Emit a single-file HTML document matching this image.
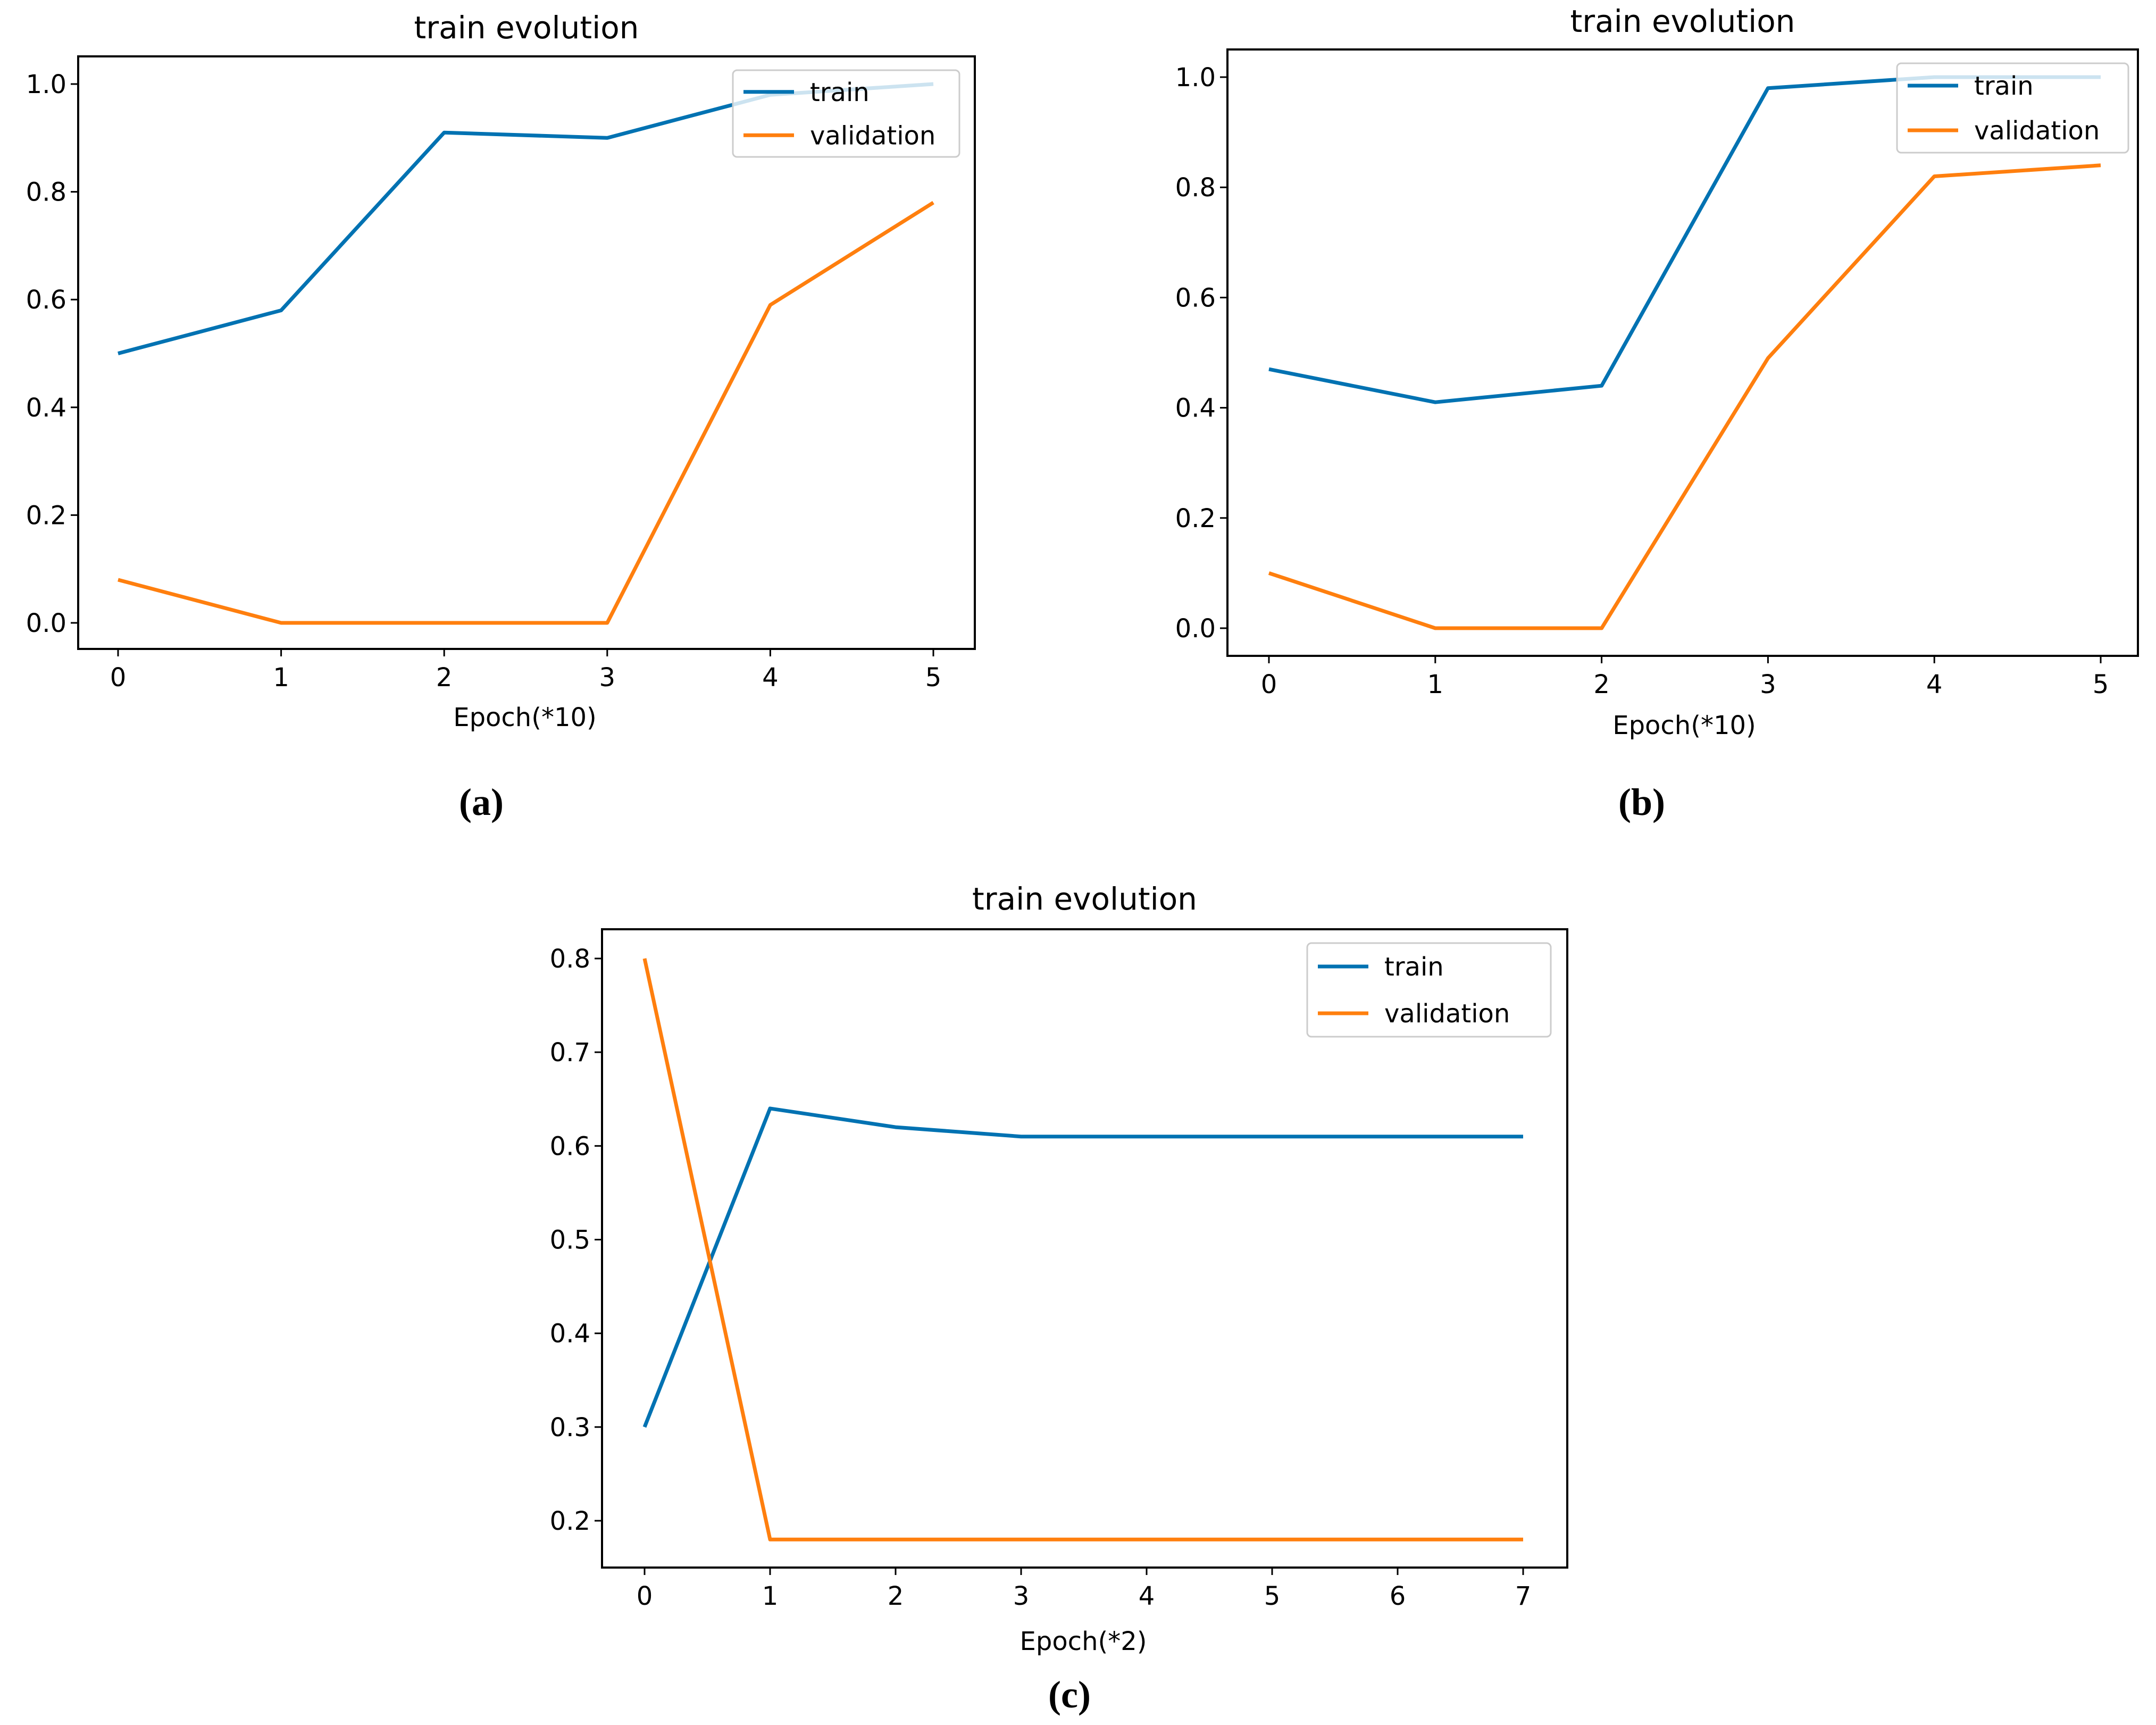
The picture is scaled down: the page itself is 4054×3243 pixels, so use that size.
<!DOCTYPE html>
<html><head><meta charset="utf-8">
<style>
html,body{margin:0;padding:0;background:#fff;}
svg{display:block;}
text{font-family:"DejaVu Sans","Liberation Sans",sans-serif;fill:#000;}
.cap{font-family:"Liberation Serif",serif;font-weight:bold;}
</style></head>
<body>
<svg id="fig" width="4054" height="3243" viewBox="0 0 4054 3243" xmlns="http://www.w3.org/2000/svg"></svg>
<script>
// Panel (a) data
const aCategories = [0,1,2,3,4,5];
const aTrain = [0.50,0.58,0.91,0.90,0.98,1.00];
const aVal = [0.08,0.00,0.00,0.00,0.59,0.78];
const aYTicks = [0.0,0.2,0.4,0.6,0.8,1.0];
const aYLabels = ["0.0","0.2","0.4","0.6","0.8","1.0"];
// Panel (b) data
const bCategories = [0,1,2,3,4,5];
const bTrain = [0.47,0.41,0.44,0.98,1.00,1.00];
const bVal = [0.10,0.00,0.00,0.49,0.82,0.84];
const bYTicks = [0.0,0.2,0.4,0.6,0.8,1.0];
const bYLabels = ["0.0","0.2","0.4","0.6","0.8","1.0"];
// Panel (c) data
const cCategories = [0,1,2,3,4,5,6,7];
const cTrain = [0.30,0.64,0.62,0.61,0.61,0.61,0.61,0.61];
const cVal = [0.80,0.18,0.18,0.18,0.18,0.18,0.18,0.18];
const cYTicks = [0.2,0.3,0.4,0.5,0.6,0.7,0.8];
const cYLabels = ["0.2","0.3","0.4","0.5","0.6","0.7","0.8"];

const NS = "http://www.w3.org/2000/svg";
const svg = document.getElementById('fig');
function mk(tag, attrs, parent){
  const e = document.createElementNS(NS, tag);
  for (const k in attrs) e.setAttribute(k, attrs[k]);
  (parent||svg).appendChild(e);
  return e;
}

function panel(p){
  const g = mk('g', {});
  
  
  const xs = v => p.x0 + (v - p.cats[0]) * (p.x1 - p.x0) / (p.cats[p.cats.length-1] - p.cats[0]);
  const ys = v => p.yA + (v - p.vA) * (p.yB - p.yA) / (p.vB - p.vA);
  const t = mk('text', {x:(p.L+p.R)/2, y:p.titleY, 'font-size':58, 'text-anchor':'middle'}, g);
  t.textContent = 'train evolution';
  
  
  const series = [[p.train,'#0072b2','train-line'],[p.val,'#ff7f0e','validation-line']];
  series.forEach(s => {
    const pts = p.cats.map((c,i) => xs(c).toFixed(1)+','+ys(s[0][i]).toFixed(1)).join(' ');
    const pl = mk('polyline', {points:pts, fill:'none', stroke:s[1], 'stroke-width':7, 'stroke-linejoin':'round'}, g);
    
    
  });
  const fr = mk('rect', {x:p.L, y:p.T, width:p.R-p.L, height:p.B-p.T, fill:'none', stroke:'#000', 'stroke-width':4}, g);
  
  
  p.cats.forEach(c => {
    const x = xs(c);
    const tk = mk('line', {x1:x, x2:x, y1:p.B, y2:p.B+14, stroke:'#000', 'stroke-width':3}, g);
    
    
    const tl = mk('text', {x:x, y:p.B+70, 'font-size':48, 'text-anchor':'middle'}, g);
    tl.textContent = String(c);
    
    
  });
  p.yt.forEach((v,i) => {
    const y = ys(v);
    const tk = mk('line', {x1:p.L-14, x2:p.L, y1:y, y2:y, stroke:'#000', 'stroke-width':3}, g);
    
    
    const tl = mk('text', {x:p.L-22, y:y+17, 'font-size':48, 'text-anchor':'end'}, g);
    tl.textContent = p.yl[i];
    
    
  });
  const xl = mk('text', {x:p.xlabX, y:p.xlabY, 'font-size':48, 'text-anchor':'middle'}, g);
  xl.textContent = p.xlab;
  
  
  const lg = mk('g', {}, g);
  
  
  const lx = p.leg[0], ly = p.leg[1], lw = p.leg[2], lh = p.leg[3];
  mk('rect', {x:lx, y:ly, width:lw, height:lh, rx:8, fill:'#fff', 'fill-opacity':0.8, stroke:'#ccc', 'stroke-width':3}, lg);
  const rowH = lh/2;
  [['train','#0072b2'],['validation','#ff7f0e']].forEach((e,i) => {
    const eg = mk('g', {}, lg);
    
    
    const cy = ly + rowH*(i+0.5);
    mk('line', {x1:lx+20, x2:lx+115, y1:cy, y2:cy, stroke:e[1], 'stroke-width':7}, eg);
    const tx = mk('text', {x:lx+145, y:cy+17, 'font-size':48}, eg);
    tx.textContent = e[0];
  });
  const cp = mk('text', {x:p.capX, y:p.capY, 'font-size':72, 'text-anchor':'middle', class:'cap'}, g);
  cp.textContent = p.cap;
  
  
}

panel({name:'panel-a', L:147, R:1833, T:106, B:1220, x0:222, x1:1755, yA:1171, vA:0, yB:158, vB:1,
  cats:aCategories, train:aTrain, val:aVal, yt:aYTicks, yl:aYLabels, titleY:72,
  xlab:'Epoch(*10)', xlabX:987, xlabY:1365, leg:[1378,132,426,163], cap:'(a)', capX:905, capY:1532});
panel({name:'panel-b', L:2308, R:4020, T:93, B:1233, x0:2386, x1:3950, yA:1181, vA:0, yB:145, vB:1,
  cats:bCategories, train:bTrain, val:bVal, yt:bYTicks, yl:bYLabels, titleY:60,
  xlab:'Epoch(*10)', xlabX:3167, xlabY:1380, leg:[3567,119,435,168], cap:'(b)', capX:3087, capY:1532});
panel({name:'panel-c', L:1132, R:2947, T:1747, B:2947, x0:1212, x1:2864, yA:2859, vA:0.2, yB:1802, vB:0.8,
  cats:cCategories, train:cTrain, val:cVal, yt:cYTicks, yl:cYLabels, titleY:1710,
  xlab:'Epoch(*2)', xlabX:2037, xlabY:3102, leg:[2458,1773,458,176], cap:'(c)', capX:2011, capY:3210});
</script>
</body></html>
